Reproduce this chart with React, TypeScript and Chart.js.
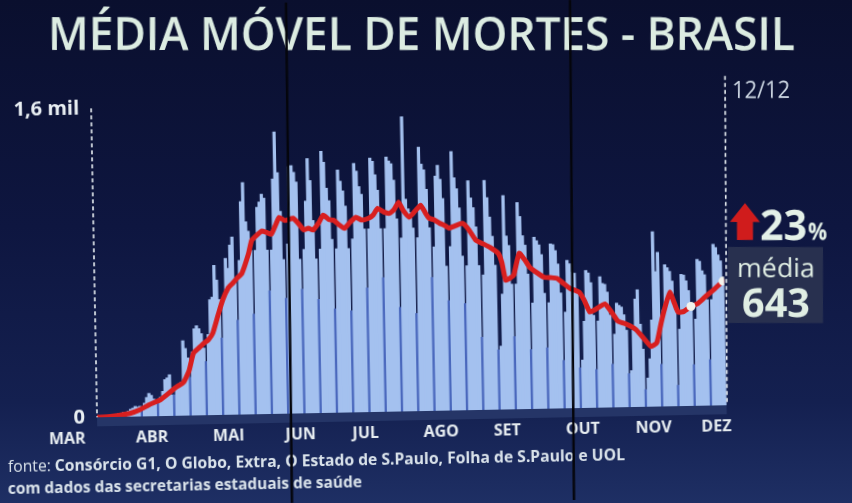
import React, { useEffect, useRef } from 'react';
import { Chart, registerables } from 'chart.js';

Chart.register(...registerables);

// ---------------- DATA ----------------
// x = day index, 0 = 17/03/2020 (first death) ... 270 = 12/12/2020
const monthLabels = ['MAR', 'ABR', 'MAI', 'JUN', 'JUL', 'AGO', 'SET', 'OUT', 'NOV', 'DEZ'];
const monthTickDays = [-13.5, 23, 56, 87, 115, 147.5, 176, 208.5, 239, 266];
const yTickValues = [0, 1600];
const yTickLabels = ['0', '1,6 mil'];

// daily deaths (first row Tue 17/03 - Sat 21/03, then weeks Sun..Sat)
const dailyDeaths = [
  1, 2, 2, 4, 7,
  9, 10, 12, 16, 20, 18, 24,
  22, 30, 40, 45, 55, 50, 55,
  45, 70, 100, 120, 110, 90, 80,
  70, 100, 130, 190, 200, 215, 110,
  110, 150, 160, 175, 390, 350, 300,
  200, 330, 450, 466, 450, 424, 350,
  280, 420, 600, 612, 777, 700, 600,
  400, 600, 812, 760, 880, 922, 700,
  490, 800, 1104, 1203, 1000, 950, 850,
  520, 850, 1073, 1100, 1140, 1120, 850,
  640, 850, 1218, 1461, 1250, 1050, 800,
  600, 880, 1280, 1285, 1250, 1200, 800,
  645, 850, 1100, 1320, 1207, 1000, 800,
  590, 850, 1357, 1300, 1165, 1100, 900,
  540, 850, 1258, 1200, 1150, 1070, 850,
  528, 900, 1290, 1250, 1170, 1130, 950,
  645, 950, 1317, 1300, 1230, 1150, 950,
  697, 950, 1320, 1300, 1285, 1200, 1000,
  541, 900, 1528, 1100, 1050, 1030, 950,
  507, 900, 1368, 1280, 1250, 1150, 950,
  693, 850, 1217, 1273, 1200, 1100, 750,
  571, 850, 1342, 1207, 1150, 1050, 800,
  554, 750, 1190, 1100, 1050, 950, 750,
  378, 700, 1190, 1100, 1000, 900, 750,
  311, 330, 600, 1110, 900, 850, 650,
  378, 650, 1072, 1000, 900, 850, 700,
  309, 550, 890, 873, 850, 800, 600,
  317, 550, 855, 850, 820, 750, 600,
  250, 500, 768, 750, 705, 700, 600,
  210, 250, 450, 713, 700, 650, 480,
  200, 450, 680, 645, 640, 600, 480,
  225, 380, 541, 530, 520, 480, 400,
  175, 190, 400, 560, 608, 430, 300,
  90, 150, 250, 450, 907, 700, 800,
  220, 500, 735, 720, 700, 650, 500,
  110, 400, 684, 680, 650, 600, 500,
  215, 450, 760, 750, 700, 680, 550,
  240, 550, 836, 820, 780, 750, 650,
];

// moving average readings (day index, value)
const movingAvgDays = [
  0, 5, 9, 14, 18, 22, 27, 31, 34, 37, 39.5, 41.5, 44, 46, 48, 50, 52.5, 54.5, 57, 59,
  61, 63, 66, 67.5, 70, 72, 74, 76, 78, 79.5, 82, 85.5, 88, 90, 92, 94, 96.5, 98.5, 101, 103,
  105, 107.5, 110, 112.5, 115, 118, 120, 122, 124.5, 127, 129, 131, 133, 135.5, 138, 140.5, 142.5, 144, 146, 148.5,
  150.5, 152.5, 155, 158.5, 161, 164, 167, 170, 173.5, 175, 176.5, 178.5, 180, 182.5, 185, 187, 190, 193, 196, 198.5,
  201, 204, 208, 210, 212.5, 215, 219, 222, 224.5, 228, 232, 235, 238.5, 241, 243, 245, 247, 249, 250.5, 253,
  256, 259, 262, 266, 270,
];
const movingAvgValues = [
  0, 3, 8, 18, 35, 60, 85, 122, 150, 172, 232, 322, 350, 372, 390, 424, 520, 594, 657, 681,
  708, 731, 831, 901, 930, 948, 940, 930, 980, 1017, 1000, 1011, 980, 950, 958, 948, 985, 1024, 1000, 997,
  975, 954, 985, 1010, 995, 1003, 1020, 1054, 1035, 1027, 1045, 1083, 1040, 1005, 1035, 1066, 1025, 998, 990, 971,
  960, 944, 955, 968, 935, 879, 860, 841, 809, 760, 669, 680, 694, 807, 770, 733, 705, 681, 678, 674,
  650, 621, 600, 560, 496, 510, 536, 490, 446, 430, 402, 361, 312, 330, 431, 520, 591, 530, 486, 490,
  515, 530, 561, 600, 643,
];

const highlightDays = [256, 270];
const highlightValues = [515, 643];

// ---------------- STYLE ----------------
const ANG = (1.1 * Math.PI) / 180;
const OX = 426;
const OY = 411;
const FONT = '"Open Sans", "DejaVu Sans", sans-serif';

function screen(ctx: CanvasRenderingContext2D, fn: () => void) {
  ctx.save();
  ctx.translate(OX, OY);
  ctx.rotate(ANG);
  ctx.translate(-OX, -OY);
  fn();
  ctx.restore();
}

function fitText(ctx: CanvasRenderingContext2D, text: string, x: number, y: number, width: number) {
  const w = ctx.measureText(text).width || 1;
  ctx.save();
  ctx.translate(x, y);
  ctx.scale(width / w, 1);
  ctx.fillText(text, 0, 0);
  ctx.restore();
}

const decor = {
  id: 'decor',
  beforeDatasetsDraw(chart: any) {
    const { ctx, chartArea: a } = chart;
    ctx.save();
    ctx.fillStyle = 'rgba(40,58,108,0.8)';
    ctx.fillRect(a.left, a.bottom, a.right - a.left, 9);
    ctx.restore();
  },
  afterDraw(chart: any) {
    const { ctx, chartArea: a } = chart;
    ctx.save();
    // left dashed axis line
    ctx.strokeStyle = '#e8eef2';
    ctx.lineWidth = 1.6;
    ctx.setLineDash([4, 3]);
    ctx.beginPath();
    ctx.moveTo(a.left, a.top);
    ctx.lineTo(a.left, a.bottom);
    ctx.stroke();
    ctx.setLineDash([]);

    // source text (tilted with the chart)
    ctx.fillStyle = '#d9e2ea';
    ctx.textBaseline = 'alphabetic';
    ctx.font = `16px ${FONT}`;
    const p1 = 'fonte: ';
    const w1 = ctx.measureText(p1).width;
    ctx.font = `bold 16px ${FONT}`;
    const p2 = 'Consórcio G1, O Globo, Extra, O Estado de S.Paulo, Folha de S.Paulo e UOL';
    const w2 = ctx.measureText(p2).width;
    const s = 617 / (w1 + w2);
    ctx.save();
    ctx.translate(7, 464);
    ctx.scale(s, 1);
    ctx.font = `16px ${FONT}`;
    ctx.fillText(p1, 0, 0);
    ctx.font = `bold 16px ${FONT}`;
    ctx.fillText(p2, w1, 0);
    ctx.restore();
    ctx.font = `bold 16px ${FONT}`;
    fitText(ctx, 'com dados das secretarias estaduais de saúde', 6.5, 486, 354);
    ctx.restore();

    screen(ctx, () => {
      // title
      ctx.fillStyle = '#dcece2';
      ctx.textBaseline = 'alphabetic';
      ctx.font = `600 46px ${FONT}`;
      fitText(ctx, 'MÉDIA MÓVEL DE MORTES - BRASIL', 48, 50, 747);

      // right dashed line
      ctx.strokeStyle = '#e8eef2';
      ctx.lineWidth = 1.6;
      ctx.setLineDash([4, 3]);
      ctx.beginPath();
      ctx.moveTo(725, 76);
      ctx.lineTo(727, 404);
      ctx.stroke();
      ctx.setLineDash([]);

      // date
      ctx.fillStyle = '#ccd6e2';
      ctx.font = `24px ${FONT}`;
      fitText(ctx, '12/12', 732, 98, 58);

      // arrow
      ctx.fillStyle = '#d01c1c';
      ctx.beginPath();
      ctx.moveTo(745, 203);
      ctx.lineTo(760, 222);
      ctx.lineTo(753, 222);
      ctx.lineTo(753, 240);
      ctx.lineTo(737, 240);
      ctx.lineTo(737, 222);
      ctx.lineTo(730, 222);
      ctx.closePath();
      ctx.fill();

      ctx.fillStyle = '#e4f1e8';
      ctx.font = `bold 42px ${FONT}`;
      fitText(ctx, '23', 760, 240, 47);
      ctx.font = `bold 24px ${FONT}`;
      fitText(ctx, '%', 808, 240, 19);

      // box
      ctx.fillStyle = '#28304f';
      ctx.fillRect(728, 247, 95, 76);
      ctx.fillStyle = '#e0eee4';
      ctx.font = `26px ${FONT}`;
      fitText(ctx, 'média', 737, 277, 78);
      ctx.font = `bold 40px ${FONT}`;
      fitText(ctx, '643', 742, 317, 68);

      // video-wall seams
      ctx.strokeStyle = '#04050c';
      ctx.lineWidth = 2.5;
      ctx.beginPath();
      ctx.moveTo(286, 0);
      ctx.lineTo(292, 503);
      ctx.moveTo(570, 0);
      ctx.lineTo(574, 503);
      ctx.stroke();
    });
  },
};

export default function App() {
  const ref = useRef<HTMLCanvasElement | null>(null);

  useEffect(() => {
    if (!ref.current) return;
    Chart.defaults.font.family = FONT;
    const chart = new Chart(ref.current, {
      type: 'bar',
      data: {
        datasets: [
          {
            type: 'line',
            data: highlightDays.map((d, i) => ({ x: d, y: highlightValues[i] })),
            showLine: false,
            pointRadius: 4.5,
            pointBackgroundColor: '#f3f3ec',
            pointBorderWidth: 0,
            order: 0,
          } as any,
          {
            type: 'line',
            data: movingAvgDays.map((d, i) => ({ x: d, y: movingAvgValues[i] })),
            borderColor: '#d81f1f',
            borderWidth: 5,
            pointRadius: 0,
            tension: 0.15,
            borderJoinStyle: 'round',
            borderCapStyle: 'round',
            order: 1,
          } as any,
          {
            type: 'bar',
            data: dailyDeaths.map((v, i) => ({ x: i, y: v })),
            backgroundColor: (c: any) => (c.dataIndex % 7 === 5 ? '#4a68bd' : '#a4c1ef'),
            borderWidth: 0,
            barPercentage: 1.4,
            categoryPercentage: 1,
            order: 3,
          } as any,
        ],
      },
      options: {
        responsive: false,
        animation: false,
        devicePixelRatio: 1,
        events: [],
        layout: { padding: { left: 0, right: 125.4, top: 102, bottom: 0 } },
        plugins: { legend: { display: false }, tooltip: { enabled: false }, title: { display: false } },
        scales: {
          x: {
            type: 'linear',
            min: -0.5,
            max: 270.5,
            offset: false,
            grid: { display: false, drawTicks: false },
            border: { display: false },
            afterBuildTicks: (sc: any) => {
              sc.ticks = monthTickDays.map((v) => ({ value: v }));
            },
            afterFit: (sc: any) => {
              sc.height = 92;
            },
            ticks: {
              autoSkip: false,
              maxRotation: 0,
              minRotation: 0,
              padding: 12,
              color: '#e6ecf0',
              font: { size: 16, weight: 'bold' },
              callback: (_v: any, i: number) => monthLabels[i],
            },
          },
          y: {
            min: 0,
            max: 1600,
            grid: { display: false, drawTicks: false },
            border: { display: false },
            afterBuildTicks: (sc: any) => {
              sc.ticks = yTickValues.map((v) => ({ value: v }));
            },
            afterFit: (sc: any) => {
              sc.width = 97;
            },
            ticks: {
              padding: 12,
              color: '#e8eef2',
              font: { size: 20, weight: 'bold' },
              callback: (_v: any, i: number) => yTickLabels[i],
            },
          },
        },
      } as any,
      plugins: [decor],
    });
    return () => chart.destroy();
  }, []);

  return (
    <div
      style={{
        position: 'fixed',
        left: 0,
        top: 0,
        width: 852,
        height: 503,
        overflow: 'hidden',
        background: 'linear-gradient(180deg, #0a0f2e 0%, #0e1640 45%, #142050 80%, #1e2f64 100%)',
      }}
    >
      <canvas
        ref={ref}
        width={852}
        height={503}
        style={{
          position: 'absolute',
          left: 0,
          top: 0,
          transform: 'rotate(-1.1deg)',
          transformOrigin: '426px 411px',
        }}
      />
    </div>
  );
}
